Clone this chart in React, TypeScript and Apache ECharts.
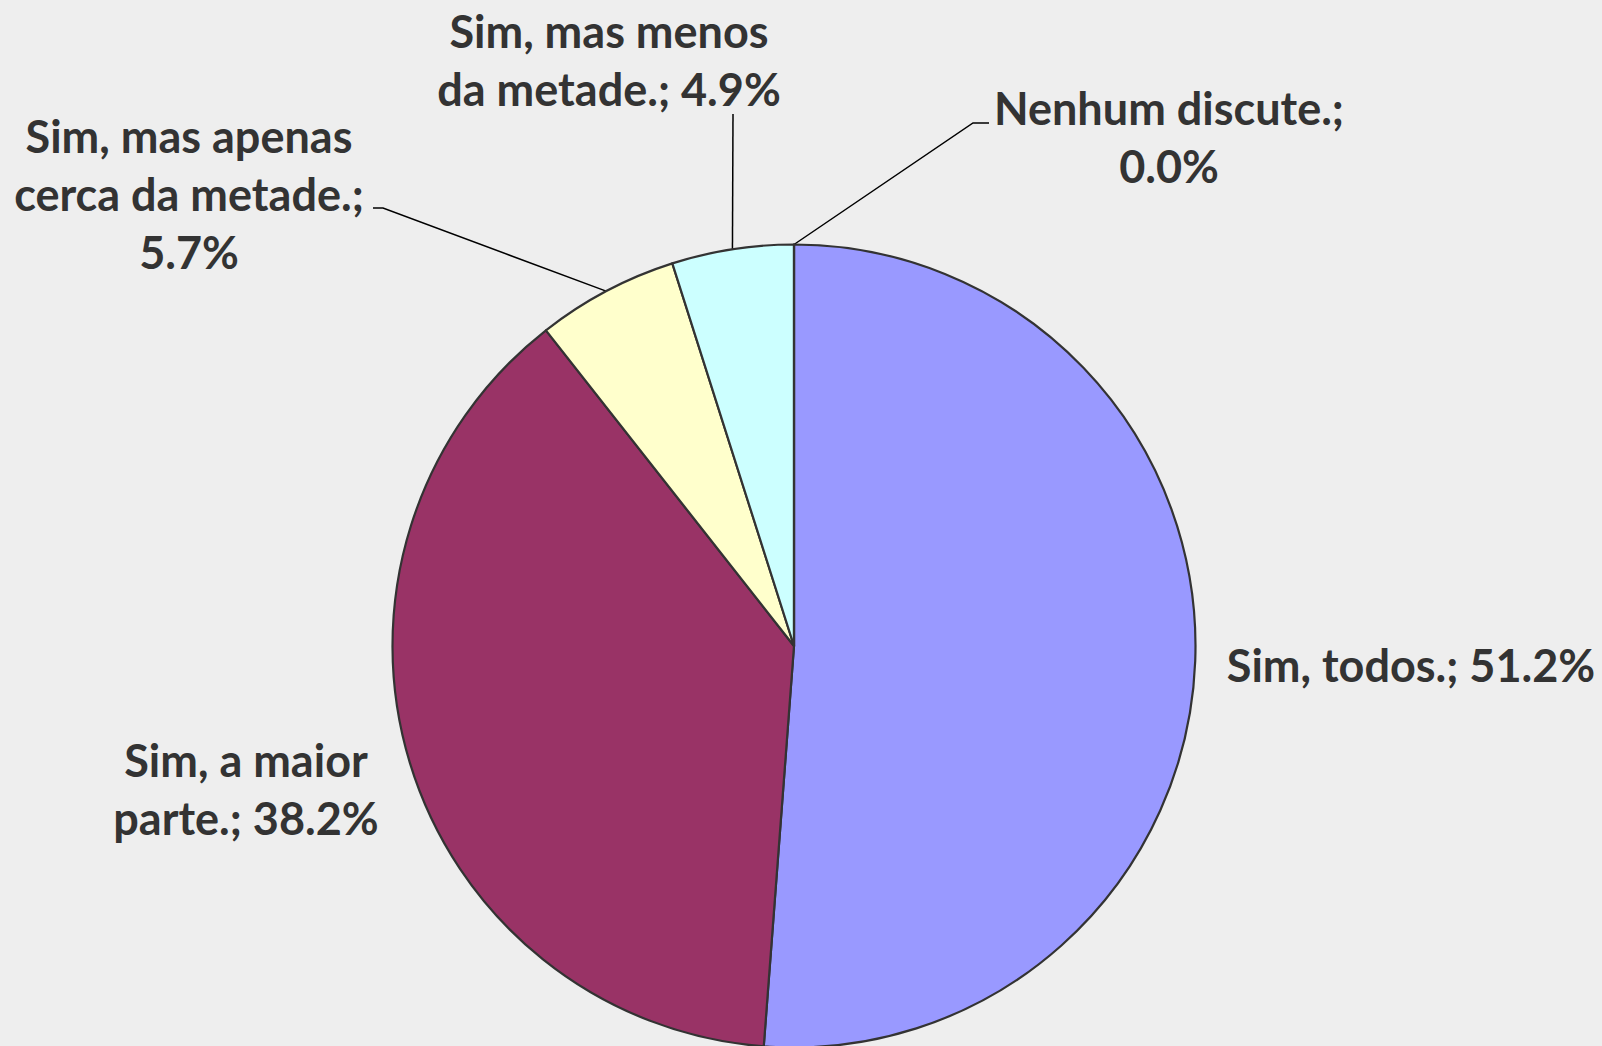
import React, { useEffect, useRef } from "react";
import * as echarts from "echarts";

const categories = [
  "Sim, todos.",
  "Sim, a maior parte.",
  "Sim, mas apenas cerca da metade.",
  "Sim, mas menos da metade.",
  "Nenhum discute.",
];
const values = [51.2, 38.2, 5.7, 4.9, 0.0];
const wrappedNames = [
  "Sim, todos.",
  "Sim, a maior\nparte.",
  "Sim, mas apenas\ncerca da metade.",
  "Sim, mas menos\nda metade.",
  "Nenhum discute.",
];
const percentSeparators = [" ", " ", "\n", " ", "\n"];
const colors = ["#9999FF", "#993366", "#FFFFCC", "#CCFFFF", "#FFFFFF"];

// label block centres (layout only)
const labelPos: number[][] = [
  [1411, 665],
  [246, 789],
  [189, 194],
  [609, 60],
  [1169, 137],
];
const labelLineBends: (number[][] | null)[] = [
  null,
  null,
  [[383, 208], [373, 208]],
  [[733, 114], [733, 114]],
  [[973, 123], [989, 123]],
];

export default function App() {
  const ref = useRef<HTMLDivElement>(null);
  useEffect(() => {
    if (!ref.current) return;
    const chart = echarts.init(ref.current, undefined, { renderer: "svg" });
    chart.setOption({
      animation: false,
      backgroundColor: "#EEEEEE",
      series: [
        {
          type: "pie",
          center: [794, 646],
          radius: 401.5,
          startAngle: 90,
          clockwise: true,
          avoidLabelOverlap: false,
          itemStyle: { borderColor: "#333333", borderWidth: 2.2 },
          label: {
            show: true,
            fontFamily: "Lato",
            fontWeight: "bold",
            fontSize: 45,
            lineHeight: 58,
            color: "#333333",
            align: "center",
            formatter: (p: any) =>
              wrappedNames[p.dataIndex] + ";" + percentSeparators[p.dataIndex] + Number(p.value).toFixed(1) + "%",
          },
          labelLine: {
            show: true,
            lineStyle: { color: "#000000", width: 1.5 },
          },
          labelLayout: (params: any) => {
            const i = params.dataIndex;
            const res: any = {
              x: labelPos[i][0],
              y: labelPos[i][1],
              align: "center",
              verticalAlign: "middle",
            };
            const bends = labelLineBends[i];
            if (bends && params.labelLinePoints) {
              res.labelLinePoints = [params.labelLinePoints[0], bends[0], bends[1]];
            }
            return res;
          },
          data: categories.map((name, i) => ({
            name,
            value: values[i],
            itemStyle: { color: colors[i] },
            labelLine: { show: labelLineBends[i] !== null },
          })),
        },
      ],
    });
    return () => chart.dispose();
  }, []);
  return (
    <div
      ref={ref}
      style={{ position: "absolute", left: 0, top: 0, width: 1602, height: 1046 }}
    />
  );
}
